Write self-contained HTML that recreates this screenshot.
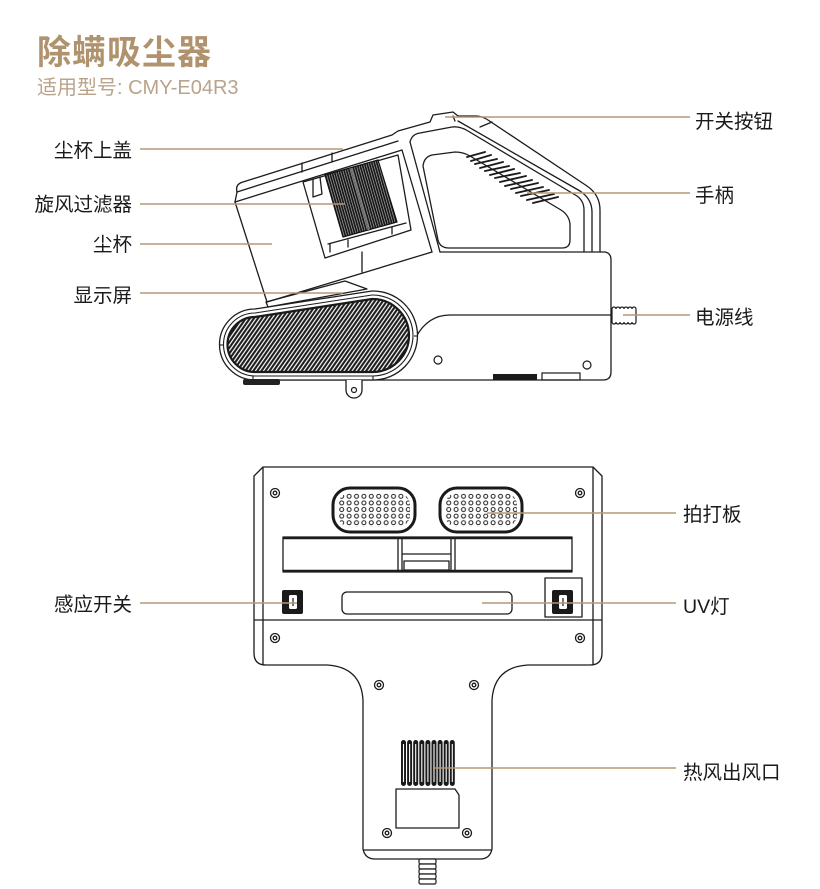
<!DOCTYPE html>
<html><head><meta charset="utf-8"><style>
html,body{margin:0;padding:0;background:#fff;}
svg{display:block;}
.t{font-family:"Liberation Sans","Noto Sans CJK SC",sans-serif;font-size:19.5px;fill:#1a1a1a;}
</style></head><body>
<svg width="820" height="889" viewBox="0 0 820 889" xmlns="http://www.w3.org/2000/svg">
<defs>
 <pattern id="rollerP" width="3.3" height="10" patternUnits="userSpaceOnUse" patternTransform="rotate(35)"><rect width="3.3" height="10" fill="#fff"/><line x1="1.2" y1="0" x2="1.2" y2="10" stroke="#1a1a1a" stroke-width="2.1"/></pattern>
 <pattern id="filterP" width="2.4" height="10" patternUnits="userSpaceOnUse" patternTransform="rotate(-16)"><rect width="2.4" height="10" fill="#161616"/><line x1="1.8" y1="0" x2="1.8" y2="10" stroke="#fff" stroke-width="0.45"/></pattern>
 <pattern id="dotA" x="338" y="493" width="7.4" height="6.6" patternUnits="userSpaceOnUse"><circle cx="3.7" cy="3.3" r="2" fill="none" stroke="#1a1a1a" stroke-width="1"/></pattern>
 <pattern id="dotB" x="445" y="493" width="7.4" height="6.6" patternUnits="userSpaceOnUse"><circle cx="3.7" cy="3.3" r="2" fill="none" stroke="#1a1a1a" stroke-width="1"/></pattern>
</defs>

<!-- Title -->
<text x="37" y="64" style="font-family:'Liberation Sans','Noto Sans CJK SC',sans-serif;font-size:34px;font-weight:700;fill:#b0936e;letter-spacing:1px">除螨吸尘器</text>
<text x="37" y="94" style="font-family:'Liberation Sans','Noto Sans CJK SC',sans-serif;font-size:20px;fill:#b9a48b">适用型号: CMY-E04R3</text>

<!-- ============ SIDE VIEW ============ -->
<g fill="none" stroke="#1c1c1c" stroke-width="1.3" stroke-linejoin="round" stroke-linecap="round">
 <path d="M237,192 Q235,184 243,182 L392,135 L398,131 L430,122 L433,115 L453,112 L458,116 L476,116 Q482,116 488,120 L587,186 Q600,195 600,210 L600,252 L605,252 Q611,253 611,260 L611,372 Q611,380 603,380 L255,380"/>
 <path d="M237,192 L398,141"/>
 <path d="M235,202 L402,150"/>
 <path d="M237,192 L235,202"/>
 <path d="M302,172 L302,163 M332,162 L332,153"/>
 <path d="M235,202 L267,302"/>
 <path d="M267,302 L432,252"/>
 <path d="M402,150 L432,252"/>
 <path d="M410,142 L440,252"/>
 <path d="M410,142 Q412,134 420,133 L452,127 Q460,126 468,131 L577,196 Q584,201 584,210 L584,252"/>
 <path d="M458,121 L580,191 Q592,199 592,212 L592,252"/>
 <path d="M453,116 L455,121"/>
 <path d="M480,127 L492,122"/>
 <path d="M432,155 Q424,157 423,166 L438,240 Q440,248 449,248 L562,248 Q570,248 570,240 L570,224 Q569,215 561,210 L470,156 Q463,152 455,152 Z"/>
 <path d="M440,252 L600,252"/>
 <path d="M416,337 Q428,315 450,315 L611,315"/>
 <path d="M303,182 L398,155 L411,230 L325,258 Z"/>
 <path d="M313,179 L313,197 L322,194 L320,177"/>
 <path d="M328,244 L406,223"/>
 <path d="M330,252 L330,244 M348,247 L348,240 M392,234 L392,227"/>
 <path d="M362,252 L362,272"/>
 <path d="M266,302 L345,281 L367,289 L268,307 Z"/>
</g>
<!-- filter -->
<path d="M325,175 L378,160 L397,222 L343,237 Z" fill="url(#filterP)" stroke="#111" stroke-width="1.2"/>
<path d="M351,168 L369,231" stroke="#777" stroke-width="1.4" fill="none"/>
<!-- handle grille stripes -->
<g stroke="#1a1a1a" stroke-width="1.9" stroke-linecap="round">
 <line x1="467" y1="157" x2="485" y2="152"/>
 <line x1="471" y1="161" x2="491" y2="155"/>
 <line x1="475" y1="164" x2="497" y2="159"/>
 <line x1="480" y1="168" x2="503" y2="162"/>
 <line x1="485" y1="171" x2="509" y2="166"/>
 <line x1="490" y1="175" x2="514" y2="169"/>
 <line x1="495" y1="178" x2="520" y2="173"/>
 <line x1="500" y1="182" x2="526" y2="176"/>
 <line x1="505" y1="186" x2="532" y2="180"/>
 <line x1="511" y1="189" x2="538" y2="183"/>
 <line x1="516" y1="193" x2="543" y2="187"/>
 <line x1="521" y1="196" x2="549" y2="190"/>
 <line x1="527" y1="200" x2="554" y2="194"/>
 <line x1="533" y1="203" x2="558" y2="197"/>
</g>
<!-- roller oval -->
<path d="M255,309 L372,291 A44.5,44.5 0 0 1 374,380 L255,380 A35.5,35.5 0 0 1 255,309 Z" fill="#fff" stroke="#1c1c1c" stroke-width="1.3"/>
<path d="M255,313 L372,295 A40.5,40.5 0 0 1 373,376 L255,376 A31.5,31.5 0 0 1 255,313 Z" fill="none" stroke="#1c1c1c" stroke-width="1.1"/>
<path d="M255,317 L372,299 A36.5,36.5 0 0 1 373,372 L255,372 A27.5,27.5 0 0 1 255,317 Z" fill="url(#rollerP)" stroke="#1a1a1a" stroke-width="2.2"/>
<g stroke="#1c1c1c" stroke-width="1.1">
 <line x1="220" y1="345" x2="224" y2="345"/><line x1="414" y1="336" x2="418" y2="336"/>
 <line x1="253" y1="376" x2="253" y2="380"/><line x1="373" y1="376" x2="373" y2="380"/>
</g>
<rect x="243" y="379" width="37" height="6" rx="2" fill="#222"/>
<path d="M346,380 L346,390 A8,8 0 0 0 362,390 L362,380" fill="#fff" stroke="#1c1c1c" stroke-width="1.3"/>
<circle cx="354" cy="390" r="2.5" fill="none" stroke="#1c1c1c" stroke-width="1.2"/>
<rect x="493" y="374" width="44" height="6" fill="#1a1a1a"/>
<rect x="542" y="373" width="38" height="7" fill="none" stroke="#1c1c1c" stroke-width="1.2"/>
<circle cx="438" cy="360" r="4" fill="none" stroke="#1c1c1c" stroke-width="1.2"/>
<circle cx="587" cy="365" r="4" fill="none" stroke="#1c1c1c" stroke-width="1.2"/>
<path d="M612,309 a2,2 0 0 1 4,0 a2,2 0 0 1 4,0 a2,2 0 0 1 4,0 a2,2 0 0 1 4,0 a2,2 0 0 1 4,0 a2,2 0 0 1 4,0 L636,322 a2,2 0 0 1 -4,0 a2,2 0 0 1 -4,0 a2,2 0 0 1 -4,0 a2,2 0 0 1 -4,0 a2,2 0 0 1 -4,0 a2,2 0 0 1 -4,0 Z" fill="#fff" stroke="#1c1c1c" stroke-width="1.2"/>

<!-- ============ BOTTOM VIEW ============ -->
<g fill="none" stroke="#1c1c1c" stroke-width="1.3" stroke-linejoin="round">
 <path d="M263,467 L593,467 L602,476 L602,653 Q602,665 590,665 L528,665 Q494,667 492,700 L492,849 Q490,859 480,859 L375,859 Q365,859 363,849 L363,700 Q361,667 327,665 L266,665 Q254,665 254,653 L254,476 Z" fill="#fff"/>
 <path d="M263,467 L263,665 M593,467 L593,665 M254,620 L602,620 M363,850 L492,850"/>
 <rect x="283" y="537" width="289" height="35"/>
 <path d="M398,537 L398,572 M402,537 L402,572 M451,537 L451,572 M455,537 L455,572 M402,554 L451,554"/>
 <rect x="404" y="561" width="45" height="9"/>
 <rect x="342" y="592" width="170" height="22" rx="5"/>
 <rect x="545" y="578" width="37" height="39"/>
 <path d="M396,789 L455,789 L459,795 L459,828 L396,828 Z"/>
</g>
<line x1="283" y1="538" x2="572" y2="538" stroke="#1c1c1c" stroke-width="2.5"/>
<line x1="283" y1="571" x2="572" y2="571" stroke="#1c1c1c" stroke-width="2.5"/>
<rect x="333" y="488" width="82" height="44" rx="17" fill="#fff" stroke="#1a1a1a" stroke-width="3"/>
<rect x="338" y="493" width="72" height="34" rx="12" fill="url(#dotA)"/>
<rect x="440" y="488" width="82" height="44" rx="17" fill="#fff" stroke="#1a1a1a" stroke-width="3"/>
<rect x="445" y="493" width="72" height="34" rx="12" fill="url(#dotB)"/>
<rect x="282" y="590" width="21" height="24" rx="2" fill="#1a1a1a"/>
<rect x="289" y="595" width="8" height="14" rx="1.5" fill="#fff"/>
<line x1="293" y1="598" x2="293" y2="606" stroke="#1a1a1a" stroke-width="1.2"/>
<rect x="552" y="590" width="21" height="24" rx="2" fill="#1a1a1a"/>
<rect x="559" y="595" width="8" height="14" rx="1.5" fill="#fff"/>
<line x1="563" y1="598" x2="563" y2="606" stroke="#1a1a1a" stroke-width="1.2"/>
<g fill="none" stroke="#1c1c1c" stroke-width="1.3">
 <circle cx="275" cy="493" r="4.5"/><circle cx="275" cy="493" r="1.8"/>
 <circle cx="580" cy="493" r="4.5"/><circle cx="580" cy="493" r="1.8"/>
 <circle cx="275" cy="638" r="4.5"/><circle cx="275" cy="638" r="1.8"/>
 <circle cx="580" cy="638" r="4.5"/><circle cx="580" cy="638" r="1.8"/>
 <circle cx="379" cy="685" r="4.5"/><circle cx="379" cy="685" r="1.8"/>
 <circle cx="474" cy="685" r="4.5"/><circle cx="474" cy="685" r="1.8"/>
 <circle cx="387" cy="833" r="4.5"/><circle cx="387" cy="833" r="1.8"/>
 <circle cx="467" cy="833" r="4.5"/><circle cx="467" cy="833" r="1.8"/>
</g>
<g fill="#1a1a1a">
 <rect x="401" y="740" width="5" height="46" rx="2.5"/>
 <rect x="407.1" y="740" width="5" height="46" rx="2.5"/>
 <rect x="413.2" y="740" width="5" height="46" rx="2.5"/>
 <rect x="419.3" y="740" width="5" height="46" rx="2.5"/>
 <rect x="425.4" y="740" width="5" height="46" rx="2.5"/>
 <rect x="431.5" y="740" width="5" height="46" rx="2.5"/>
 <rect x="437.6" y="740" width="5" height="46" rx="2.5"/>
 <rect x="443.7" y="740" width="5" height="46" rx="2.5"/>
 <rect x="449.8" y="740" width="5" height="46" rx="2.5"/>
</g>
<g stroke="#fff" stroke-width="1.1">
 <line x1="403.5" y1="744" x2="403.5" y2="782"/><line x1="409.6" y1="744" x2="409.6" y2="782"/>
 <line x1="415.7" y1="744" x2="415.7" y2="782"/><line x1="421.8" y1="744" x2="421.8" y2="782"/>
 <line x1="427.9" y1="744" x2="427.9" y2="782"/><line x1="434" y1="744" x2="434" y2="782"/>
 <line x1="440.1" y1="744" x2="440.1" y2="782"/><line x1="446.2" y1="744" x2="446.2" y2="782"/>
 <line x1="452.3" y1="744" x2="452.3" y2="782"/>
</g>
<g fill="#fff" stroke="#1c1c1c" stroke-width="1.2">
 <rect x="419" y="859" width="17" height="5" rx="1.5"/>
 <rect x="419" y="864" width="17" height="5" rx="1.5"/>
 <rect x="419" y="869" width="17" height="5" rx="1.5"/>
 <rect x="419" y="874" width="17" height="5" rx="1.5"/>
 <rect x="419" y="879" width="17" height="5" rx="1.5"/>
</g>

<!-- ============ LEADERS ============ -->
<g stroke="#b39874" stroke-width="1.5">
 <line x1="140" y1="149" x2="343" y2="149"/>
 <line x1="140" y1="204" x2="345" y2="204"/>
 <line x1="140" y1="244" x2="272" y2="244"/>
 <line x1="140" y1="293" x2="343" y2="293"/>
 <line x1="445" y1="117" x2="690" y2="117"/>
 <line x1="527" y1="193" x2="690" y2="193"/>
 <line x1="623" y1="315" x2="690" y2="315"/>
 <line x1="487" y1="513" x2="676" y2="513"/>
 <line x1="482" y1="603" x2="676" y2="603"/>
 <line x1="140" y1="603" x2="297" y2="603"/>
 <line x1="433" y1="768" x2="676" y2="768"/>
</g>

<!-- ============ LABELS ============ -->
<text class="t" x="132" y="157" text-anchor="end">尘杯上盖</text>
<text class="t" x="132" y="211" text-anchor="end">旋风过滤器</text>
<text class="t" x="132" y="251" text-anchor="end">尘杯</text>
<text class="t" x="132" y="302" text-anchor="end">显示屏</text>
<text class="t" x="132" y="611" text-anchor="end">感应开关</text>
<text class="t" x="695" y="128">开关按钮</text>
<text class="t" x="695" y="202">手柄</text>
<text class="t" x="695" y="324">电源线</text>
<text class="t" x="683" y="521">拍打板</text>
<text class="t" x="683" y="613">UV灯</text>
<text class="t" x="683" y="779">热风出风口</text>
</svg>
</body></html>
